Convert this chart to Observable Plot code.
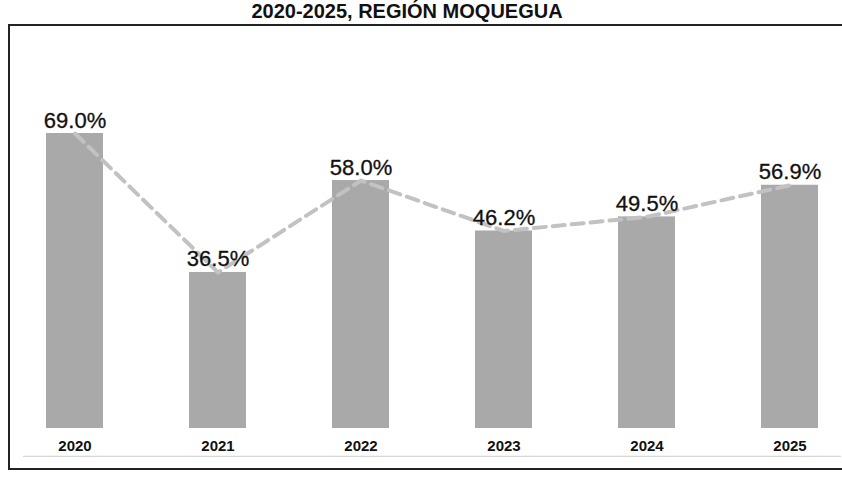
<!DOCTYPE html>
<html><head><meta charset="utf-8">
<script src="https://cdn.jsdelivr.net/npm/d3@7"></script>
<script src="https://cdn.jsdelivr.net/npm/@observablehq/plot@0.6"></script>
<style>
body{margin:0;background:#fff;overflow:hidden;width:842px;height:484px;position:relative;font-family:"Liberation Sans",Arial,sans-serif}
#title{position:absolute;top:0px;left:0;width:842px;text-align:center;font-weight:bold;font-size:20px;line-height:22px;color:#111;margin-left:-14px}
#frame{position:absolute;left:8px;top:24px;width:850px;height:442px;border-left:2px solid #222;border-top:2px solid #222;border-bottom:2px solid #222}
#chart{position:absolute;left:0;top:0}
</style></head>
<body>
<div id="title">2020-2025, REGIÓN MOQUEGUA</div>
<div id="frame"></div>
<div id="chart"></div>
<script>
const years = ["2020","2021","2022","2023","2024","2025"];
const values = [69.0, 36.5, 58.0, 46.2, 49.5, 56.9];
const labels = ["69.0%","36.5%","58.0%","46.2%","49.5%","56.9%"];
const data = years.map((y,i)=>({year:y, value:values[i], label:labels[i]}));
const chart = Plot.plot({
  width: 842, height: 484,
  marginLeft: 23, marginRight: 1, marginTop: 86, marginBottom: 56,
  style:{background:"transparent", fontFamily:"Liberation Sans, Arial, sans-serif"},
  x:{domain:years, paddingInner:0.6, paddingOuter:0.15, label:null},
  y:{domain:[0,80], axis:null},
  marks:[
    Plot.barY(data,{x:"year", y:"value", fill:"#a9a9a9"}),
    Plot.lineY(data,{x:"year", y:"value", stroke:"#c2c2c2", strokeWidth:4, strokeDasharray:"12,7"}),
    Plot.text(data,{x:"year", y:"value", text:"label", lineAnchor:"bottom", dy:-6, fontSize:22, fill:"#111", stroke:"#111", strokeWidth:0.3}),
    Plot.axisX({tickSize:0, tickPadding:12, fontSize:15, fontWeight:"bold", fill:"#111"}),
    Plot.ruleY([-6.5],{stroke:"#ccc", strokeWidth:1})
  ]
});
document.getElementById("chart").appendChild(chart);
</script>
</body></html>
